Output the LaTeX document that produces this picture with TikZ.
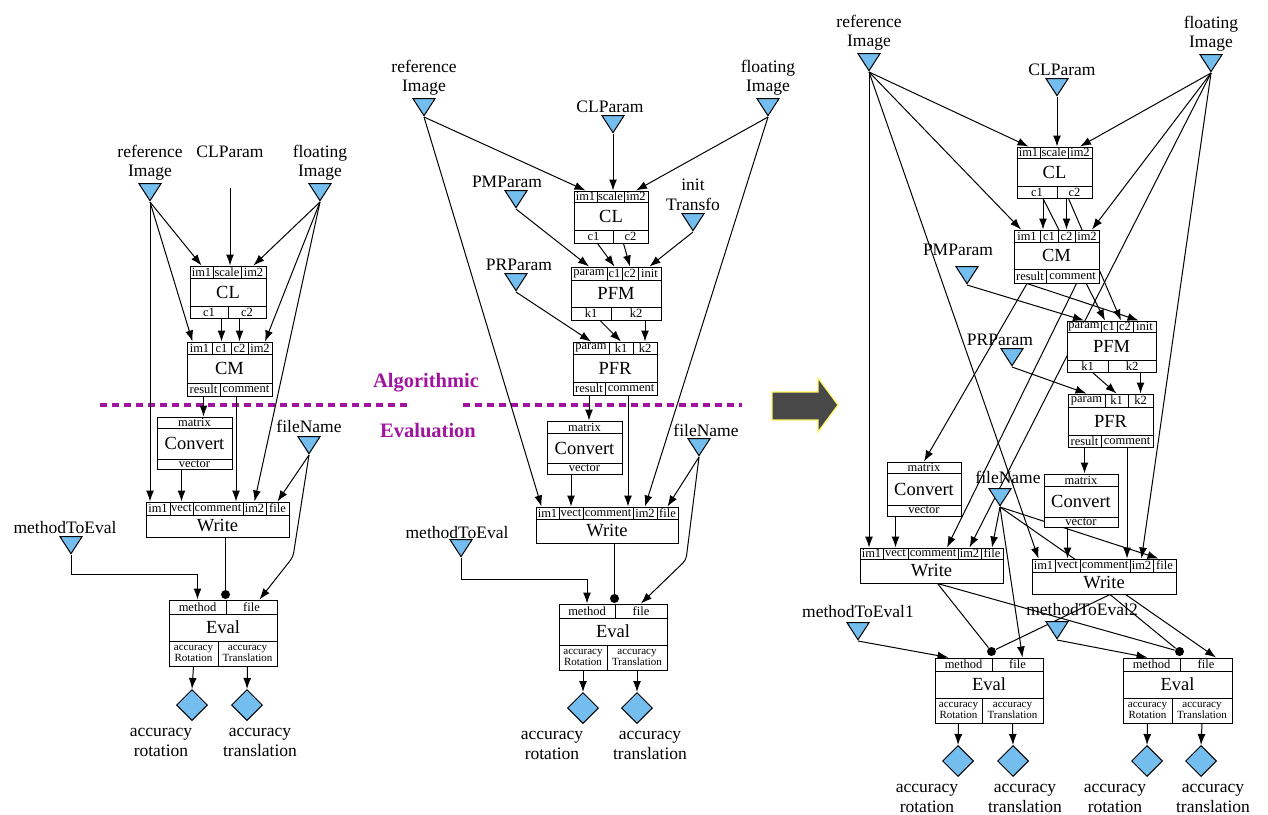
\documentclass[tikz,border=0pt]{standalone}
\usepackage{fontspec}
\setmainfont{Liberation Serif}
\usetikzlibrary{positioning,shapes.geometric,arrows.meta,backgrounds}

\definecolor{portblue}{RGB}{115,190,238}
\definecolor{sepviolet}{RGB}{160,20,160}
\definecolor{arrowgray}{RGB}{72,72,72}

\tikzset{
  port/.style={draw, fill=white, inner sep=0pt, align=center, font=\fontsize{12.5}{13}\selectfont},
  small/.style={font=\fontsize{11}{11.5}\selectfont},
  blk/.style={draw, fill=white, inner sep=0pt, font=\fontsize{18.5}{20}\selectfont},
  inport/.style={isosceles triangle, shape border rotate=-90, isosceles triangle stretches,
    minimum width=22pt, minimum height=17pt, inner sep=0pt, draw, fill=portblue},
  outport/.style={diamond, draw, fill=portblue, minimum width=31pt, minimum height=31pt, inner sep=0pt},
  lbl/.style={align=center, inner sep=1pt, font=\fontsize{17.5}{19.5}\selectfont},
  seplbl/.style={text=sepviolet, font=\fontsize{20.5}{22}\selectfont\bfseries},
  sepline/.style={draw=sepviolet, line width=4pt, dash pattern=on 7pt off 5pt},
  syncdot/.style={circle, fill=black, inner sep=0pt, minimum size=9pt}
}

% one row of ports: [style]{top}{height}{name/left/right/text,...}
\newcommand{\portrow}[4][]{%
  \foreach \pcn/\pca/\pcb/\pct in {#4}
    \node[port,#1,minimum width={(\pcb-\pca)*1pt},minimum height=#3pt]
      (\pcn) at ({(\pca+\pcb)/2},{#2+#3/2}) {\pct};}
% middle part of a block: {name}{left}{right}{top}{bottom}{title}
\newcommand{\blocktitle}[6]{%
  \node[blk,minimum width={(#3-#2)*1pt},minimum height={(#5-#4)*1pt}]
    (#1) at ({(#2+#3)/2},{(#4+#5)/2}) {#6};}

\begin{document}
\begin{tikzpicture}[x=1pt,y=-1pt,line width=1pt,>={Latex[length=11pt,width=8pt]}]
\useasboundingbox (0,0) rectangle (1268,814);

%%% left: CM only
\node[inport, anchor=apex] (ref1) at (150,202) {};
\node[inport, anchor=apex] (flt1) at (320,202) {};
\coordinate (clp1) at (230,188);
\node[inport, anchor=apex] (fn1)  at (309,455) {};
\node[inport, anchor=apex] (mte1) at (71,555)  {};
\coordinate (fn1-bend) at (293,557);

\node[lbl, above=20pt of ref1.apex] (ref1-l) {reference\\Image};
\node[lbl, above=20pt of flt1.apex] (flt1-l) {floating\\Image};
\node[lbl, above=29pt of clp1]      (clp1-l) {CLParam};
\node[lbl, above=21pt of fn1.apex]  (fn1-l)  {fileName};
\node[lbl, above=20pt of mte1.apex, xshift=-6pt] (mte1-l) {methodToEval};

\portrow{266}{12}{cl1-im1/190/213/im1, cl1-scale/213/241/scale, cl1-im2/241/266/im2}
\blocktitle{cl1}{190}{266}{278}{306}{CL}
\portrow{306}{12}{cl1-c1/190/228/c1, cl1-c2/228/266/c2}

\portrow{342}{12}{cm1-im1/187/212/im1, cm1-c1/212/231/c1, cm1-c2/231/248/c2, cm1-im2/248/272/im2}
\blocktitle{cm1}{187}{272}{354}{383}{CM}
\portrow{383}{13}{cm1-result/187/220/result, cm1-comment/220/272/comment}

\portrow{417}{11}{cv1-matrix/157/232/matrix}
\blocktitle{cv1}{157}{232}{428}{459}{Convert}
\portrow{459}{10}{cv1-vector/157/232/vector}

\portrow{502}{13}{wr1-im1/146/170/im1, wr1-vect/170/193/vect, wr1-comment/193/243/comment, wr1-im2/243/266/im2, wr1-file/266/289/file}
\blocktitle{wr1}{146}{289}{515}{537}{Write}

\portrow{600}{14}{ev1-method/169/226/method, ev1-file/226/277/file}
\blocktitle{ev1}{169}{277}{614}{641}{Eval}
\portrow[small]{641}{25}{ev1-rot/169/218/{accuracy\\Rotation}, ev1-tr/218/277/{accuracy\\Translation}}
\node[syncdot] (ev1-dot) at ([yshift=5pt]ev1-file.north west) {};

\node[outport] (ao1r) at (192,705) {};
\node[outport] (ao1t) at (247,705) {};
\node[lbl, below=6pt of ao1r.south, xshift=-31pt] (ao1r-l) {accuracy\\rotation};
\node[lbl, below=6pt of ao1t.south, xshift=13pt]  (ao1t-l) {accuracy\\translation};

%%% middle: PFM + PFR
\node[inport, anchor=apex] (ref2) at (424,117) {};
\node[inport, anchor=apex] (flt2) at (768,117) {};
\node[inport, anchor=apex] (clp2) at (613,134) {};
\node[inport, anchor=apex] (pmp2) at (516,209) {};
\node[inport, anchor=apex] (ini2) at (693,232) {};
\node[inport, anchor=apex] (prp2) at (516,292) {};
\node[inport, anchor=apex] (fn2)  at (699,457) {};
\node[inport, anchor=apex] (mte2) at (461,558) {};
\coordinate (fn2-bend) at (686,560);

\node[lbl, above=20pt of ref2.apex] (ref2-l) {reference\\Image};
\node[lbl, above=20pt of flt2.apex] (flt2-l) {floating\\Image};
\node[lbl, above=20pt of clp2.apex, xshift=-3pt] (clp2-l) {CLParam};
\node[lbl, above=20pt of pmp2.apex, xshift=-9pt] (pmp2-l) {PMParam};
\node[lbl, above=20pt of ini2.apex] (ini2-l) {init\\Transfo};
\node[lbl, above=20pt of prp2.apex, xshift=3pt]  (prp2-l) {PRParam};
\node[lbl, above=19pt of fn2.apex, xshift=7pt]   (fn2-l)  {fileName};
\node[lbl, above=18pt of mte2.apex, xshift=-4pt] (mte2-l) {methodToEval};

\portrow{191}{11}{cl2-im1/574/597/im1, cl2-scale/597/624/scale, cl2-im2/624/648/im2}
\blocktitle{cl2}{574}{648}{202}{230}{CL}
\portrow{230}{13}{cl2-c1/574/613/c1, cl2-c2/613/648/c2}

\portrow{267}{13}{pfm2-param/571/607/param, pfm2-c1/607/622/c1, pfm2-c2/622/638/c2, pfm2-init/638/661/init}
\blocktitle{pfm2}{571}{661}{280}{307}{PFM}
\portrow{307}{13}{pfm2-k1/571/611/k1, pfm2-k2/611/661/k2}

\portrow{342}{12}{pfr2-param/573/609/param, pfr2-k1/609/633/k1, pfr2-k2/633/657/k2}
\blocktitle{pfr2}{573}{657}{354}{382}{PFR}
\portrow{382}{13}{pfr2-result/573/605/result, pfr2-comment/605/657/comment}

\portrow{421}{12}{cv2-matrix/547/622/matrix}
\blocktitle{cv2}{547}{622}{433}{463}{Convert}
\portrow{463}{11}{cv2-vector/547/622/vector}

\portrow{507}{12}{wr2-im1/536/559/im1, wr2-vect/559/583/vect, wr2-comment/583/633/comment, wr2-im2/633/657/im2, wr2-file/657/678/file}
\blocktitle{wr2}{536}{678}{519}{543}{Write}

\portrow{604}{14}{ev2-method/559/615/method, ev2-file/615/667/file}
\blocktitle{ev2}{559}{667}{618}{645}{Eval}
\portrow[small]{645}{25}{ev2-rot/559/607/{accuracy\\Rotation}, ev2-tr/607/667/{accuracy\\Translation}}
\node[syncdot] (ev2-dot) at ([yshift=5pt]ev2-file.north west) {};

\node[outport] (ao2r) at (583,708) {};
\node[outport] (ao2t) at (637,708) {};
\node[lbl, below=6pt of ao2r.south, xshift=-31pt] (ao2r-l) {accuracy\\rotation};
\node[lbl, below=6pt of ao2t.south, xshift=13pt]  (ao2t-l) {accuracy\\translation};

%%% right: CM feeds PFM, two evaluations
\node[inport, anchor=apex] (ref3) at (869,72)   {};
\node[inport, anchor=apex] (flt3) at (1211,73)  {};
\node[inport, anchor=apex] (clp3) at (1057,97)  {};
\node[inport, anchor=apex] (pmp3) at (967,285)  {};
\node[inport, anchor=apex] (prp3) at (1012,367) {};
\node[inport, anchor=apex] (fn3)  at (1000,507) {};
\node[inport, anchor=apex] (mtea) at (858,641)  {};
\node[inport, anchor=apex] (mteb) at (1057,640) {};

\node[lbl, above=20pt of ref3.apex] (ref3-l) {reference\\Image};
\node[lbl, above=20pt of flt3.apex] (flt3-l) {floating\\Image};
\node[lbl, above=20pt of clp3.apex, xshift=5pt]   (clp3-l) {CLParam};
\node[lbl, above=28pt of pmp3.apex, xshift=-9pt]  (pmp3-l) {PMParam};
\node[lbl, above=20pt of prp3.apex, xshift=-12pt] (prp3-l) {PRParam};
\node[lbl, above=22pt of fn3.apex, xshift=8pt]    (fn3-l)  {fileName};
\node[lbl, above=22pt of mtea.apex] (mtea-l) {methodToEval1};
\node[lbl, above=23pt of mteb.apex, xshift=25pt]  (mteb-l) {methodToEval2};

\portrow{147}{11}{cl3-im1/1017/1040/im1, cl3-scale/1040/1068/scale, cl3-im2/1068/1092/im2}
\blocktitle{cl3}{1017}{1092}{158}{186}{CL}
\portrow{186}{12}{cl3-c1/1017/1057/c1, cl3-c2/1057/1092/c2}

\portrow{230}{12}{cm3-im1/1014/1040/im1, cm3-c1/1040/1058/c1, cm3-c2/1058/1075/c2, cm3-im2/1075/1099/im2}
\blocktitle{cm3}{1014}{1099}{242}{269}{CM}
\portrow{269}{14}{cm3-result/1014/1046/result, cm3-comment/1046/1099/comment}

\portrow{321}{11}{pfm3-param/1067/1101/param, pfm3-c1/1101/1117/c1, pfm3-c2/1117/1133/c2, pfm3-init/1133/1156/init}
\blocktitle{pfm3}{1067}{1156}{332}{360}{PFM}
\portrow{360}{12}{pfm3-k1/1067/1108/k1, pfm3-k2/1108/1156/k2}

\portrow{394}{13}{pfr3-param/1068/1105/param, pfr3-k1/1105/1128/k1, pfr3-k2/1128/1153/k2}
\blocktitle{pfr3}{1068}{1153}{407}{435}{PFR}
\portrow{435}{12}{pfr3-result/1068/1101/result, pfr3-comment/1101/1153/comment}

\portrow{462}{11}{cva-matrix/887/961/matrix}
\blocktitle{cva}{887}{961}{473}{505}{Convert}
\portrow{505}{11}{cva-vector/887/961/vector}

\portrow{474}{12}{cvb-matrix/1044/1118/matrix}
\blocktitle{cvb}{1044}{1118}{486}{517}{Convert}
\portrow{517}{10}{cvb-vector/1044/1118/vector}

\portrow{548}{11}{wra-im1/860/883/im1, wra-vect/883/908/vect, wra-comment/908/958/comment, wra-im2/958/981/im2, wra-file/981/1003/file}
\blocktitle{wra}{860}{1003}{559}{583}{Write}

\portrow{559}{13}{wrb-im1/1032/1055/im1, wrb-vect/1055/1080/vect, wrb-comment/1080/1130/comment, wrb-im2/1130/1153/im2, wrb-file/1153/1176/file}
\blocktitle{wrb}{1032}{1176}{572}{594}{Write}

\portrow{658}{13}{eva-method/935/992/method, eva-file/992/1043/file}
\blocktitle{eva}{935}{1043}{671}{698}{Eval}
\portrow[small]{698}{25}{eva-rot/935/982/{accuracy\\Rotation}, eva-tr/982/1043/{accuracy\\Translation}}
\node[syncdot] (eva-dot) at ([yshift=6pt]eva-file.north west) {};

\portrow{658}{13}{evb-method/1123/1180/method, evb-file/1180/1232/file}
\blocktitle{evb}{1123}{1232}{671}{698}{Eval}
\portrow[small]{698}{25}{evb-rot/1123/1172/{accuracy\\Rotation}, evb-tr/1172/1232/{accuracy\\Translation}}
\node[syncdot] (evb-dot) at ([yshift=6pt]evb-file.north west) {};

\node[outport] (aoar) at (958,761)  {};
\node[outport] (aoat) at (1013,761) {};
\node[outport] (aobr) at (1147,761) {};
\node[outport] (aobt) at (1201,761) {};
\node[lbl, below=6pt of aoar.south, xshift=-31pt] (aoar-l) {accuracy\\rotation};
\node[lbl, below=6pt of aoat.south, xshift=12pt]  (aoat-l) {accuracy\\translation};
\node[lbl, below=6pt of aobr.south, xshift=-32pt] (aobr-l) {accuracy\\rotation};
\node[lbl, below=6pt of aobt.south, xshift=12pt]  (aobt-l) {accuracy\\translation};

%%% separator and big arrow
\node[seplbl] (alg)  at (426,383) {Algorithmic};
\node[seplbl] (eval) at (428,431) {Evaluation};
\draw[fill=arrowgray, draw=yellow!60, line width=1.2pt]
  (772,392) -- (818,392) -- (818,378) -- (838,405) -- (818,432) -- (818,420) -- (772,420) -- cycle;

\begin{pgfonlayer}{background}
\begin{scope}[line width=1pt]
  \draw[sepline] (100,405) -- (411,405);
  \draw[sepline] (463,405) -- (742,405);

  % left
  \path[->]
    (ref1.apex) edge (cl1-im1.north)
                edge ([xshift=-7pt]cm1-im1.north)
                edge (ref1.apex |- wr1-im1.north)
    (flt1.apex) edge (cl1-im2.north)
                edge ([xshift=5pt]cm1-im2.north)
                edge (wr1-im2.north)
    (clp1)      edge (clp1 |- cl1-scale.north)
    (cm1-c1 |- cl1-c1.south) edge (cm1-c1.north)
    (cm1-c2 |- cl1-c2.south) edge (cm1-c2.north)
    (cm1-result.south) edge (cm1-result.south |- cv1-matrix.north)
    ([xshift=-10pt]cm1-comment.south) edge ([xshift=-10pt]cm1-comment.south |- wr1-comment.north)
    (wr1-vect |- cv1-vector.south) edge (wr1-vect.north)
    (fn1.apex)  edge (wr1-file.north)
    (ev1-rot.south) edge (ao1r.north)
    (ev1-tr.south)  edge (ao1t.north);
  \draw[->, rounded corners=4pt] (fn1.apex) -- (fn1-bend) -- ([xshift=8pt]ev1-file.north);
  \draw[->] (mte1.apex) |- ([yshift=25pt]ev1-method.north) -- (ev1-method.north);
  \draw (wr1.south -| ev1-dot) -- (ev1-dot);

  % middle
  \path[->]
    (ref2.apex) edge (cl2-im1.north)
                edge ([xshift=-6pt]wr2-im1.north)
    (flt2.apex) edge (cl2-im2.north)
                edge (wr2-im2.north)
    (clp2.apex) edge (clp2.apex |- cl2-scale.north)
    (pmp2.apex) edge (pfm2-param.north)
    ([xshift=4pt]cl2-c1.south)  edge (pfm2-c1.north)
    ([xshift=-7pt]cl2-c2.south) edge (pfm2-c2.north)
    (ini2.apex) edge (pfm2-init.north)
    (prp2.apex) edge (pfr2-param.north)
    ([xshift=9pt]pfm2-k1.south) edge (pfr2-k1.north)
    (pfr2-k2 |- pfm2-k2.south) edge (pfr2-k2.north)
    (pfr2-result.south) edge (pfr2-result.south |- cv2-matrix.north)
    ([xshift=-3pt]pfr2-comment.south) edge ([xshift=-3pt]pfr2-comment.south |- wr2-comment.north)
    (wr2-vect |- cv2-vector.south) edge (wr2-vect.north)
    (fn2.apex)  edge (wr2-file.north)
    (ev2-rot.south) edge (ao2r.north)
    (ev2-tr.south)  edge (ao2t.north);
  \draw[->, rounded corners=4pt] (fn2.apex) -- (fn2-bend) -- (ev2-file.north);
  \draw[->] (mte2.apex) |- ([yshift=24pt]ev2-method.north) -- (ev2-method.north);
  \draw (wr2.south -| ev2-dot) -- (ev2-dot);

  % right
  \path[->]
    (ref3.apex) edge (cl3-im1.north)
                edge ([xshift=-6pt]cm3-im1.north)
                edge (ref3.apex |- wra-im1.north)
                edge ([xshift=-5pt]wrb-im1.north)
    (flt3.apex) edge (cl3-im2.north)
                edge ([xshift=5pt]cm3-im2.north)
                edge (wra-im2.north)
                edge (wrb-im2.north)
    (clp3.apex) edge (clp3.apex |- cl3-scale.north)
    ([xshift=-6pt]cm3-c1 |- cl3-c1.south) edge ([xshift=-6pt]cm3-c1.north)
    (cm3-c2 |- cl3-c2.south) edge (cm3-c2.north)
    ([xshift=6pt]cl3-c1.south)  edge ([xshift=-4pt]pfm3-c1.north)
    ([xshift=-6pt]cl3-c2.south) edge ([xshift=-4pt]pfm3-c2.north)
    (pmp3.apex) edge (pfm3-param.north)
    ([xshift=-3pt]cm3-result.south) edge ([xshift=-6pt]pfm3-init.north)
                                    edge (cva-matrix.north)
    ([xshift=4pt]cm3-comment.south) edge ([xshift=14pt]wra-comment.north)
    (prp3.apex) edge (pfr3-param.north)
    ([xshift=5pt]pfm3-k1.south) edge (pfr3-k1.north)
    (pfr3-k2 |- pfm3-k2.south) edge (pfr3-k2.north)
    (pfr3-result.south) edge (pfr3-result.south |- cvb-matrix.north)
    (pfr3-comment.south) edge (pfr3-comment.south |- wrb-comment.north)
    (wra-vect |- cva-vector.south) edge (wra-vect.north)
    (wrb-vect |- cvb-vector.south) edge (wrb-vect.north)
    (fn3.apex)  edge (wra-file.north)
                edge ([xshift=-6pt]wrb-file.north)
                edge ([xshift=5pt]eva-file.north)
                edge ([xshift=10pt]evb-file.north)
    (mtea.apex) edge ([xshift=-15pt]eva-method.north)
    (mteb.apex) edge ([xshift=-4pt]evb-method.north)
    (eva-rot.south) edge (aoar.north)
    (eva-tr.south)  edge (aoat.north)
    (evb-rot.south) edge (aobr.north)
    (evb-tr.south)  edge (aobt.north);
  \path
    ([xshift=6pt]wra.south) edge (eva-dot)
                            edge (evb-dot)
    ([xshift=6pt]wrb.south) edge (eva-dot)
                            edge (evb-dot);
\end{scope}
\end{pgfonlayer}
\end{tikzpicture}
\end{document}
